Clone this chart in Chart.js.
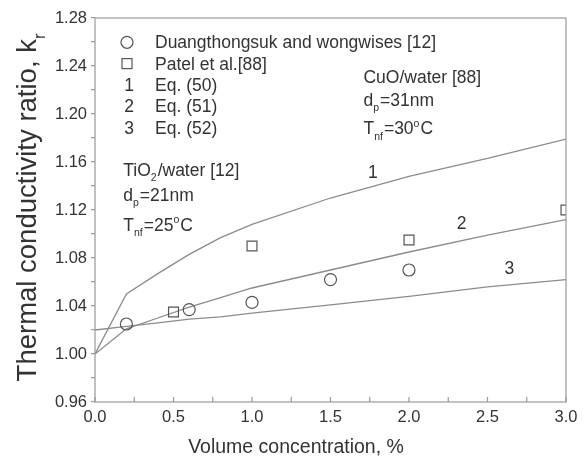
<!DOCTYPE html>
<html>
<head>
<meta charset="utf-8">
<script src="https://cdn.jsdelivr.net/npm/chart.js@4.4.1/dist/chart.umd.min.js"></script>
<style>
  html, body { margin: 0; padding: 0; background: #fff; }
  canvas { display: block; }
</style>
</head>
<body>
<canvas id="kChart" width="584" height="459"></canvas>
<script>
// volume fraction, %
const phi = [0, 0.2, 0.4, 0.6, 0.8, 1.0, 1.5, 2.0, 2.5, 3.0];
// model curves, Eq. (50) / (51) / (52)
const eq50 = [1.000, 1.050, 1.067, 1.083, 1.097, 1.108, 1.130, 1.148, 1.163, 1.179];
const eq51 = [1.000, 1.021, 1.030, 1.039, 1.047, 1.055, 1.070, 1.085, 1.099, 1.112];
const eq52 = [1.020, 1.023, 1.026, 1.029, 1.031, 1.034, 1.041, 1.048, 1.056, 1.062];

// measurements
const duangX = [0.2, 0.6, 1.0, 1.5, 2.0];
const duangY = [1.025, 1.037, 1.043, 1.062, 1.070];
const patelX = [0.5, 1.0, 2.0, 3.0];
const patelY = [1.035, 1.090, 1.095, 1.120];

const xTicks = [0, 0.5, 1.0, 1.5, 2.0, 2.5, 3.0];
const yTicks = [0.96, 1.00, 1.04, 1.08, 1.12, 1.16, 1.20, 1.24, 1.28];

const FONT = "'Liberation Sans', Arial, Helvetica, sans-serif";
const TEXT = '#333';
const LINE = '#8c8c8c';
const MARK = '#555';

const pts = (xs, ys) => xs.map((x, i) => ({ x: x, y: ys[i] }));

function curve(label, ys, tag) {
  return {
    label: label, tag: tag, type: 'line', data: pts(phi, ys),
    borderColor: LINE, borderWidth: 1.3, pointRadius: 0, tension: 0, fill: false
  };
}

// text with sub/superscripts: parts = [[str, 'n' | 'sub' | 'sup'], ...]
function rich(ctx, x, y, parts, size) {
  let cx = x;
  parts.forEach(([s, mode]) => {
    let fs = size, dy = 0;
    if (mode === 'sub') { fs = size * 0.6; dy = size * 0.32; }
    if (mode === 'sup') { fs = size * 0.6; dy = -size * 0.45; }
    ctx.font = fs + 'px ' + FONT;
    ctx.fillText(s, cx, y + dy);
    cx += ctx.measureText(s).width + (mode === 'n' ? 0 : 1);
  });
  return cx - x;
}

// annotation anchors, in data units (baseline, left edge)
const notes = [
  { x: 0.18, y: 1.1486, parts: [['TiO', 'n'], ['2', 'sub'], ['/water [12]', 'n']] },
  { x: 0.18, y: 1.1278, parts: [['d', 'n'], ['p', 'sub'], ['=21nm', 'n']] },
  { x: 0.18, y: 1.1028, parts: [['T', 'n'], ['nf', 'sub'], ['=25', 'n'], ['o', 'sup'], ['C', 'n']] },
  { x: 1.71, y: 1.226, parts: [['CuO/water [88]', 'n']] },
  { x: 1.71, y: 1.207, parts: [['d', 'n'], ['p', 'sub'], ['=31nm', 'n']] },
  { x: 1.71, y: 1.183, parts: [['T', 'n'], ['nf', 'sub'], ['=30', 'n'], ['o', 'sup'], ['C', 'n']] }
];
const curveTags = [
  { t: '1', x: 1.77, y: 1.147 },
  { t: '2', x: 2.335, y: 1.104 },
  { t: '3', x: 2.64, y: 1.067 }
];

const decor = {
  id: 'decor',
  afterDraw(chart) {
    const ctx = chart.ctx, a = chart.chartArea;
    const xs = chart.scales.x, ys = chart.scales.y;
    ctx.save();

    // frame
    ctx.strokeStyle = '#999';
    ctx.lineWidth = 1.2;
    ctx.strokeRect(a.left, a.top, a.right - a.left, a.bottom - a.top);

    // inward ticks on x
    ctx.beginPath();
    xs.ticks.forEach(t => {
      const px = xs.getPixelForValue(t.value);
      ctx.moveTo(px, a.bottom);
      ctx.lineTo(px, a.bottom - 5);
    });
    ctx.stroke();

    ctx.fillStyle = TEXT;
    ctx.textBaseline = 'alphabetic';
    ctx.textAlign = 'left';

    // legend block
    const lx = 127, tx = 155, size = 17.5;
    chart.data.datasets.forEach((ds, i) => {
      const base = 48.3 + i * 21.3;
      const cy = base - 6;
      ctx.strokeStyle = MARK;
      ctx.lineWidth = 1.2;
      if (ds.pointStyle === 'circle') {
        ctx.beginPath();
        ctx.arc(lx, cy, 6, 0, Math.PI * 2);
        ctx.stroke();
      } else if (ds.pointStyle === 'rect') {
        ctx.strokeRect(lx - 5, cy - 5, 10, 10);
      } else {
        ctx.font = size + 'px ' + FONT;
        ctx.textAlign = 'center';
        ctx.fillText(ds.tag, lx + 2, base);
        ctx.textAlign = 'left';
      }
      ctx.font = size + 'px ' + FONT;
      ctx.fillText(ds.label, tx, base);
    });

    notes.forEach(n => rich(ctx, xs.getPixelForValue(n.x), ys.getPixelForValue(n.y), n.parts, size));

    ctx.font = size + 'px ' + FONT;
    ctx.textAlign = 'center';
    curveTags.forEach(c => ctx.fillText(c.t, xs.getPixelForValue(c.x), ys.getPixelForValue(c.y)));

    // axis titles
    ctx.font = '19.5px ' + FONT;
    ctx.fillText('Volume concentration, %', 296, 453);

    ctx.save();
    ctx.translate(36, 207);
    ctx.rotate(-Math.PI / 2);
    ctx.textAlign = 'left';
    const ts = 27.5;
    ctx.font = ts + 'px ' + FONT;
    const main = 'Thermal conductivity ratio, k';
    const w = ctx.measureText(main).width;
    ctx.font = (ts * 0.6) + 'px ' + FONT;
    const w2 = ctx.measureText('r').width + 1;
    rich(ctx, -(w + w2) / 2, 0, [[main, 'n'], ['r', 'sub']], ts);
    ctx.restore();

    ctx.restore();
  }
};

new Chart(document.getElementById('kChart'), {
  type: 'scatter',
  data: {
    datasets: [
      {
        label: 'Duangthongsuk and wongwises [12]', data: pts(duangX, duangY),
        pointStyle: 'circle', pointRadius: 6, pointBorderWidth: 1.2,
        borderColor: MARK, backgroundColor: 'rgba(0,0,0,0)'
      },
      {
        label: 'Patel et al.[88]', data: pts(patelX, patelY),
        pointStyle: 'rect', pointRadius: 7, pointBorderWidth: 1.2,
        borderColor: MARK, backgroundColor: 'rgba(0,0,0,0)'
      },
      curve('Eq. (50)', eq50, '1'),
      curve('Eq. (51)', eq51, '2'),
      curve('Eq. (52)', eq52, '3')
    ]
  },
  options: {
    responsive: false,
    animation: false,
    layout: { padding: { left: 0, right: 18, top: 18, bottom: 0 } },
    plugins: { legend: { display: false }, tooltip: { enabled: false } },
    scales: {
      x: {
        type: 'linear', min: 0, max: 3,
        afterFit: s => { s.height = 57; },
        afterBuildTicks: s => { s.ticks = [0, 0.25, 0.5, 0.75, 1, 1.25, 1.5, 1.75, 2, 2.25, 2.5, 2.75, 3].map(v => ({ value: v })); },
        grid: { display: true, drawOnChartArea: false, drawTicks: false, color: '#999' },
        border: { display: false },
        ticks: {
          autoSkip: false, maxRotation: 0, padding: 6, color: TEXT,
          font: { family: FONT, size: 16.5 },
          callback: v => xTicks.some(t => Math.abs(t - v) < 1e-6) ? v.toFixed(1) : ''
        }
      },
      y: {
        type: 'linear', min: 0.96, max: 1.28,
        afterFit: s => { s.width = 95; },
        afterBuildTicks: s => {
          const out = [];
          for (let k = 96; k <= 128; k += 2) out.push({ value: k / 100 });
          s.ticks = out;
        },
        grid: { display: true, drawOnChartArea: false, drawTicks: true, tickLength: 4, color: '#999', lineWidth: 1.2 },
        border: { display: false },
        ticks: {
          autoSkip: false, padding: 4, color: TEXT,
          font: { family: FONT, size: 16.5 },
          callback: v => yTicks.some(t => Math.abs(t - v) < 1e-6) ? v.toFixed(2) : ''
        }
      }
    }
  },
  plugins: [decor]
});
</script>
</body>
</html>
